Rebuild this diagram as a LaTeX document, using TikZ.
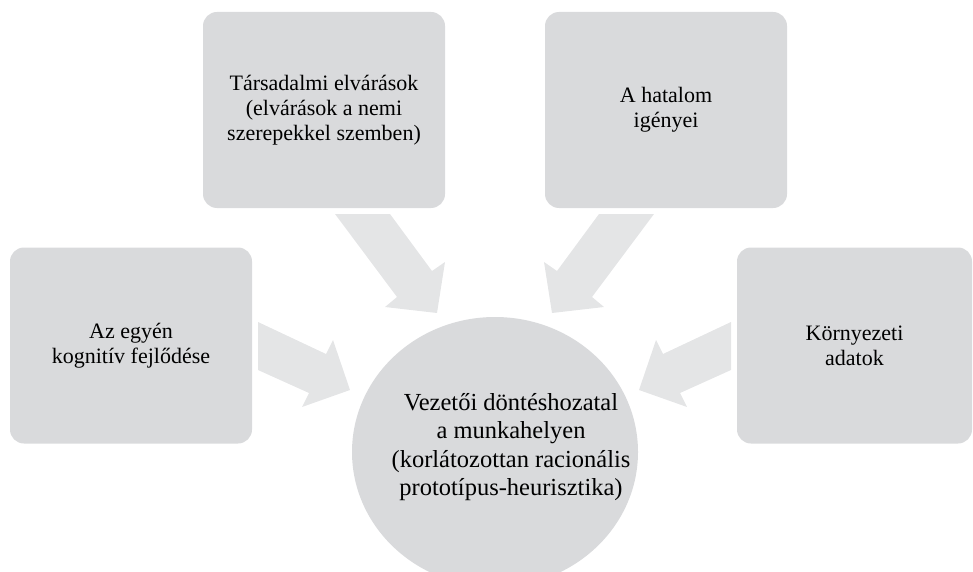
\documentclass[tikz,border=0pt]{standalone}
\usepackage{fontspec}
\setmainfont{Liberation Serif}
\usetikzlibrary{shapes.geometric}
\definecolor{boxgray}{RGB}{217,218,220}
\definecolor{arrowgray}{RGB}{228,229,230}
\begin{document}
\begin{tikzpicture}[x=1pt,y=-1pt,
  box/.style={fill=boxgray, rounded corners=14pt, inner sep=0pt,
    minimum width=242pt, minimum height=196pt, align=center,
    font=\fontsize{22}{25}\selectfont},
  blockarrow/.style={fill=arrowgray, draw=none},
  centretext/.style={align=center, font=\fontsize{24.5}{28.5}\selectfont}]
\useasboundingbox (0,0) rectangle (973,572);
\clip (0,0) rectangle (973,572);
% block arrows
\fill[blockarrow] (335,214) -- (390,214) -- (432,271) -- (445,262) -- (437,313) -- (385,307) -- (397,297) -- cycle;
\fill[blockarrow] (654,214) -- (599,214) -- (557,271) -- (544,262) -- (552,313) -- (604,307) -- (592,297) -- cycle;
\fill[blockarrow] (258,322) -- (326,354) -- (333,340) -- (350,390) -- (302,407) -- (309,393) -- (258,370) -- cycle;
\fill[blockarrow] (731,322) -- (663,354) -- (656,340) -- (639,390) -- (687,407) -- (680,393) -- (731,370) -- cycle;
% boxes
\node[box] (cog) at (131,345.5) {Az egyén\\kognitív fejlődése};
\node[box] (soc) at (324,110) {Társadalmi elvárások\\(elvárások a nemi\\szerepekkel szemben)};
\node[box] (pow) at (666,110) {A hatalom\\igényei};
\node[box, minimum width=235pt] (env) at (854.5,345.5) {Környezeti\\adatok};
% centre
\node[ellipse, fill=boxgray, inner sep=0pt, minimum width=286pt, minimum height=270pt] (dec) at (495,452) {};
\node[centretext] (dectext) at (511,447) {Vezetői döntéshozatal\\a munkahelyen\\(korlátozottan racionális\\prototípus-heurisztika)};
\end{tikzpicture}
\end{document}
